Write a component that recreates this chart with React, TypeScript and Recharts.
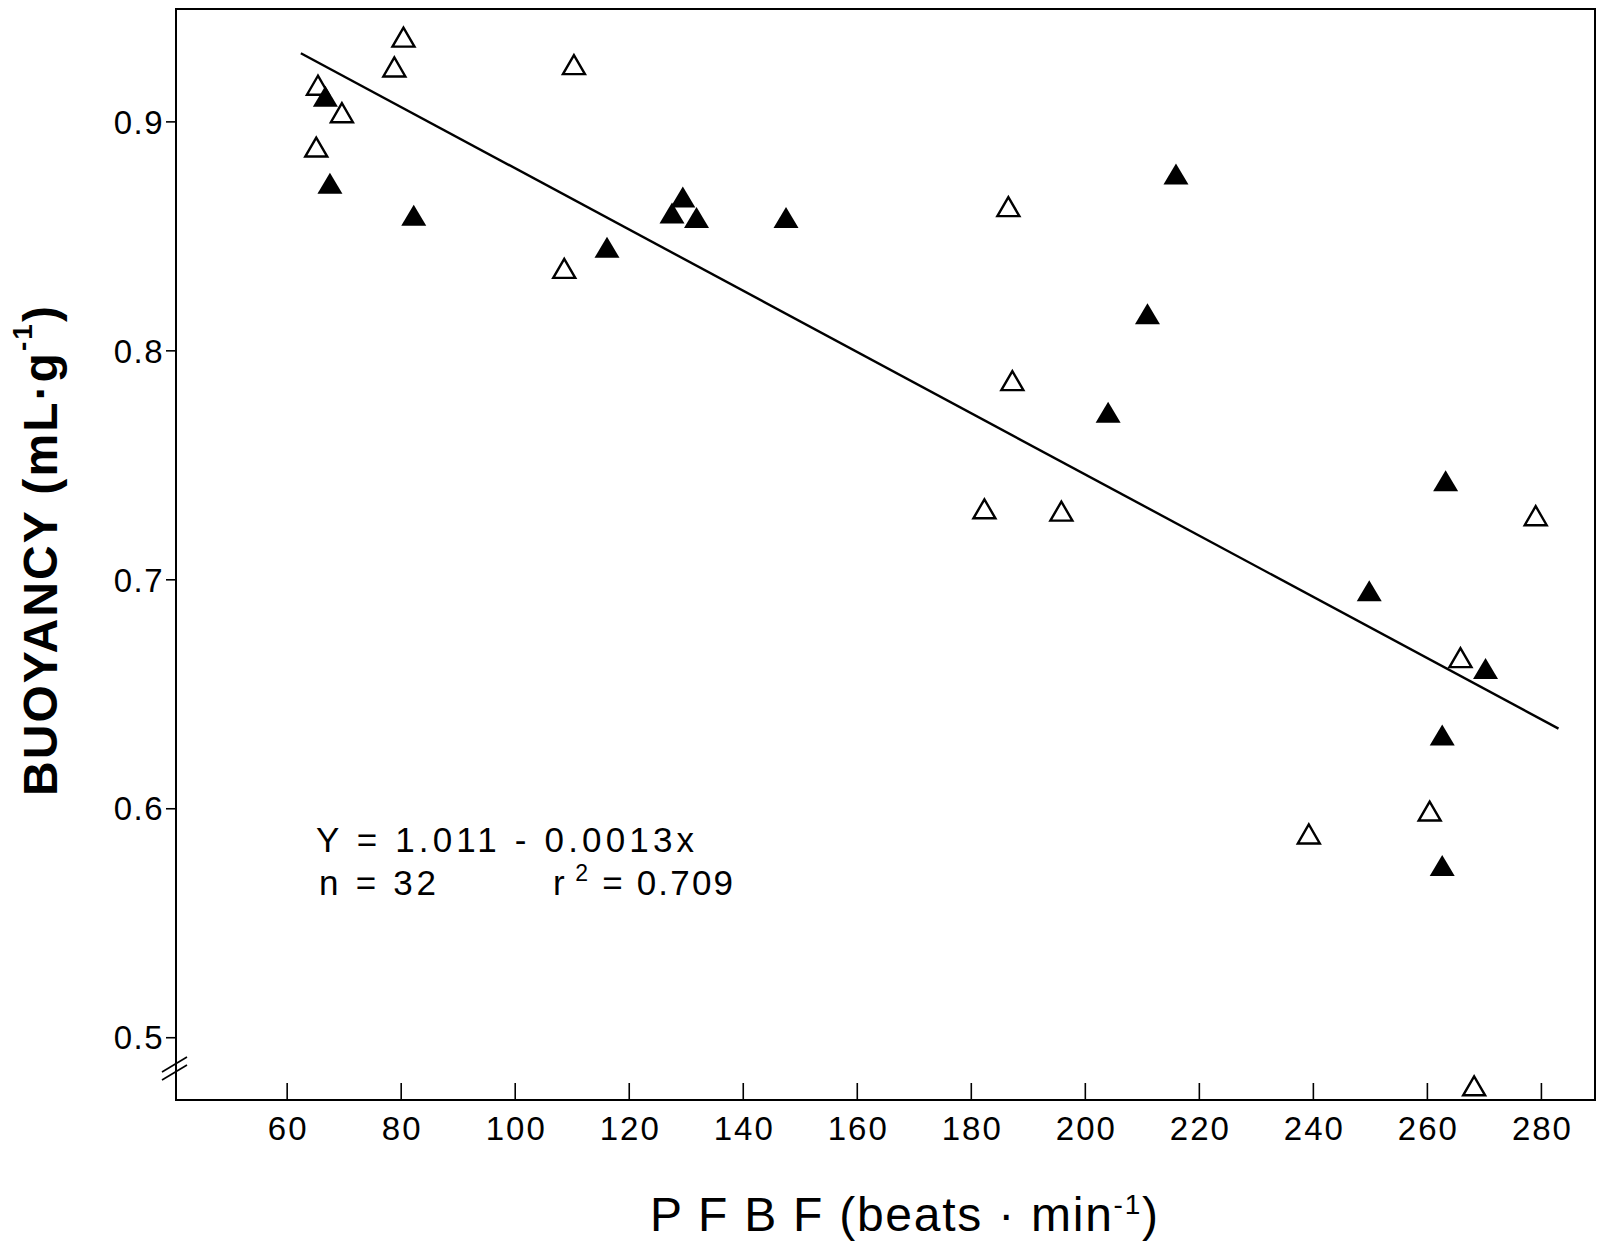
import { ScatterChart, Scatter, XAxis, YAxis, ReferenceLine, ReferenceArea } from 'recharts'

// open triangles
const openX = [80.4, 78.8, 65.4, 69.6, 65.1, 110.3, 108.6, 186.5, 187.2, 182.3, 195.8, 279.0, 265.8, 260.4, 239.2, 268.2]
const openY = [0.937, 0.924, 0.916, 0.904, 0.889, 0.925, 0.836, 0.863, 0.787, 0.731, 0.730, 0.728, 0.666, 0.599, 0.589, 0.479]

// filled triangles
const filledX = [66.7, 67.5, 82.2, 129.4, 127.5, 131.8, 147.5, 116.1, 215.9, 210.9, 204.0, 263.2, 249.8, 270.2, 262.6, 262.6]
const filledY = [0.911, 0.873, 0.859, 0.867, 0.860, 0.858, 0.858, 0.845, 0.877, 0.816, 0.773, 0.743, 0.695, 0.661, 0.632, 0.575]

// regression line ends, as drawn
const fitX = [62.4, 283.0]
const fitY = [0.930, 0.635]

const xTicks = [60, 80, 100, 120, 140, 160, 180, 200, 220, 240, 260, 280]
const yTicks = [0.5, 0.6, 0.7, 0.8, 0.9]

const X_DOMAIN: [number, number] = [40.5, 289.4]
const Y_DOMAIN: [number, number] = [0.4728, 0.9493]

const FONT = '"Liberation Sans", Arial, Helvetica, sans-serif'

const openData = openX.map((x, i) => ({ x, y: openY[i] }))
const filledData = filledX.map((x, i) => ({ x, y: filledY[i] }))

const OpenTriangle = (props: any) => {
  const { cx, cy } = props
  return (
    <polygon
      points={`${cx},${cy - 9.5} ${cx - 11},${cy + 9.5} ${cx + 11},${cy + 9.5}`}
      fill="#fff"
      stroke="#000"
      strokeWidth={2.4}
    />
  )
}

const FilledTriangle = (props: any) => {
  const { cx, cy } = props
  return <polygon points={`${cx},${cy - 11} ${cx - 12.5},${cy + 10} ${cx + 12.5},${cy + 10}`} fill="#000" />
}

const XTick = (props: any) => {
  const { x, y, payload } = props
  return (
    <g>
      <line x1={x} x2={x} y1={y - 17} y2={y} stroke="#000" strokeWidth={1.6} />
      <text x={x + 1} y={y + 40} textAnchor="middle" fontSize={33} letterSpacing={2} fontFamily={FONT} fill="#000">
        {payload.value}
      </text>
    </g>
  )
}

export default function App() {
  return (
    <div style={{ width: 1600, height: 1241, background: '#fff' }}>
      <style>{'body{margin:0;background:#fff}'}</style>
      <ScatterChart width={1600} height={1241} margin={{ top: 9, right: 5, bottom: 0, left: 0 }}>
        <XAxis
          type="number"
          dataKey="x"
          domain={X_DOMAIN}
          ticks={xTicks}
          allowDataOverflow
          height={141}
          tickSize={0}
          tickMargin={0}
          tickLine={false}
          tick={<XTick />}
          axisLine={{ stroke: '#000', strokeWidth: 2 }}
        />
        <YAxis
          type="number"
          dataKey="y"
          domain={Y_DOMAIN}
          ticks={yTicks}
          allowDataOverflow
          width={176}
          tickSize={10}
          tickMargin={2}
          tickFormatter={(v: number) => v.toFixed(1)}
          tickLine={{ stroke: '#000', strokeWidth: 1.6 }}
          axisLine={{ stroke: '#000', strokeWidth: 2 }}
          tick={{ fontSize: 33, fill: '#000', fontFamily: FONT, letterSpacing: 1.5 }}
        />
        <ReferenceArea
          x1={X_DOMAIN[0]}
          x2={X_DOMAIN[1]}
          y1={Y_DOMAIN[0]}
          y2={Y_DOMAIN[1]}
          fill="none"
          fillOpacity={0}
          stroke="#000"
          strokeWidth={2}
        />
        <ReferenceLine
          segment={[
            { x: fitX[0], y: fitY[0] },
            { x: fitX[1], y: fitY[1] },
          ]}
          stroke="#000"
          strokeWidth={2.4}
        />
        <Scatter data={openData} shape={<OpenTriangle />} isAnimationActive={false} />
        <Scatter data={filledData} shape={<FilledTriangle />} isAnimationActive={false} />

        {/* axis break on y */}
        <line x1={162} y1={1072} x2={187} y2={1057} stroke="#000" strokeWidth={1.6} />
        <line x1={162} y1={1080} x2={187} y2={1065} stroke="#000" strokeWidth={1.6} />

        <text x={316} y={852} fontSize={35} fontFamily={FONT} fill="#000" textLength={378} lengthAdjust="spacing">
          Y = 1.011 - 0.0013x
        </text>
        <text x={319} y={895} fontSize={35} fontFamily={FONT} fill="#000" textLength={117} lengthAdjust="spacing">
          n = 32
        </text>
        <text x={553} y={895} fontSize={35} fontFamily={FONT} fill="#000" textLength={180} lengthAdjust="spacing">
          r<tspan dy={-14} fontSize={23}> 2</tspan>
          <tspan dy={14}> = 0.709</tspan>
        </text>

        <text
          x={40}
          y={551}
          transform="rotate(-90, 40, 551)"
          textAnchor="middle"
          dominantBaseline="central"
          fontSize={48}
          fontWeight="bold"
          fontFamily={FONT}
          fill="#000"
          textLength={490}
          lengthAdjust="spacing"
        >
          BUOYANCY (mL·g<tspan dy={-18} fontSize={28}>-1</tspan>
          <tspan dy={18}>)</tspan>
        </text>

        <text x={650} y={1231} fontSize={48} fontFamily={FONT} fill="#000" textLength={508} lengthAdjust="spacing">
          P F B F (beats · min<tspan dy={-17} fontSize={28}>-1</tspan>
          <tspan dy={17}>)</tspan>
        </text>
      </ScatterChart>
    </div>
  )
}
